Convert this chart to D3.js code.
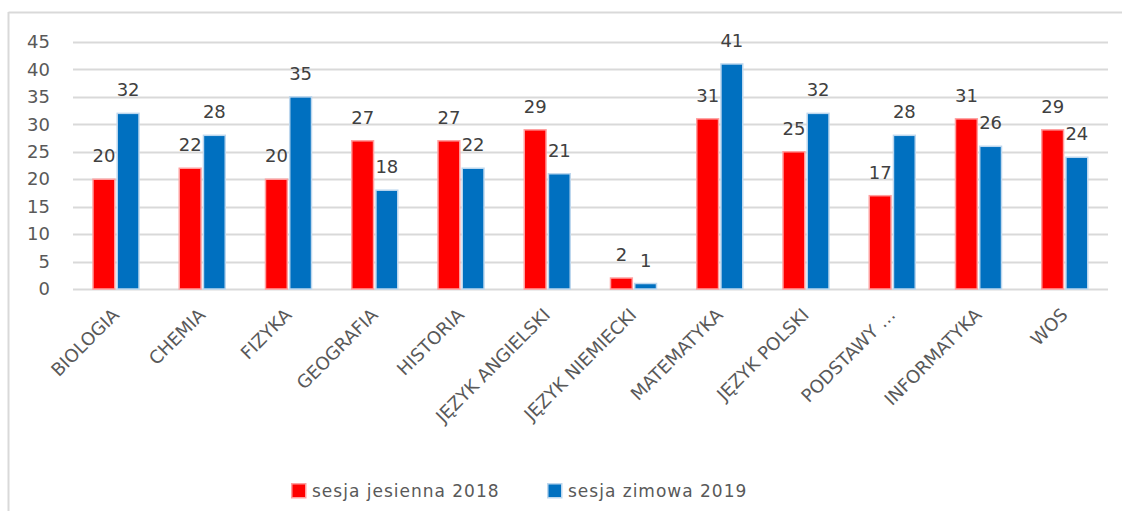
<!DOCTYPE html>
<html>
<head>
<meta charset="utf-8">
<script src="https://cdn.jsdelivr.net/npm/d3@7"></script>
<style>
  body { margin: 0; background: #fff; }
  svg { display: block; font-family: "DejaVu Sans", sans-serif; }
</style>
</head>
<body>
<div id="chart"></div>
<script>
// Chart data
const categories = ["BIOLOGIA", "CHEMIA", "FIZYKA", "GEOGRAFIA", "HISTORIA", "JĘZYK ANGIELSKI",
  "JĘZYK NIEMIECKI", "MATEMATYKA", "JĘZYK POLSKI", "PODSTAWY …", "INFORMATYKA", "WOS"];
const seriesNames = ["sesja jesienna 2018", "sesja zimowa 2019"];
const autumn2018 = [20, 22, 20, 27, 27, 29, 2, 31, 25, 17, 31, 29];
const winter2019 = [32, 28, 35, 18, 22, 21, 1, 41, 32, 28, 26, 24];
const yTicks = [0, 5, 10, 15, 20, 25, 30, 35, 40, 45];

const width = 1122, height = 511;
const margin = { top: 42, right: 14, bottom: 222, left: 73 };

const fills = ["#ff0000", "#0070c0"];
const strokes = ["#ff9f9f", "#bdd7ee"];
const fontFam = "'DejaVu Sans', sans-serif";

const svg = d3.select("#chart").append("svg")
  .attr("width", width)
  .attr("height", height);

// Chart frame (only top and left edges are visible)
svg.append("line").attr("x1", 8.5).attr("x2", width).attr("y1", 12.5).attr("y2", 12.5)
  .attr("stroke", "#d9d9d9").attr("stroke-width", 2);
svg.append("line").attr("x1", 8.5).attr("x2", 8.5).attr("y1", 12).attr("y2", height)
  .attr("stroke", "#d9d9d9").attr("stroke-width", 2);

const x0 = d3.scaleBand().domain(categories).range([margin.left, width - margin.right]);
const x1 = d3.scaleBand().domain([0, 1]).range([20, 66]).paddingInner(0.1);
const y = d3.scaleLinear().domain([0, 45]).range([height - margin.bottom, margin.top]);

// Gridlines
svg.append("g").selectAll("line").data(yTicks).join("line")
  .attr("x1", margin.left).attr("x2", width - margin.right)
  .attr("y1", d => Math.round(y(d)) + 0.5).attr("y2", d => Math.round(y(d)) + 0.5)
  .attr("stroke", "#d9d9d9").attr("stroke-width", 2);

// Y axis labels
const yAxis = d3.axisLeft(y).tickValues(yTicks).tickSize(0).tickPadding(0);
svg.append("g")
  .attr("transform", `translate(${margin.left - 23},0)`)
  .call(yAxis)
  .call(g => g.select(".domain").remove())
  .call(g => g.selectAll("text").attr("font-size", 18).attr("fill", "#595959")
    .attr("font-family", fontFam));

// Bars
const rows = categories.map((c, i) => ({ cat: c, values: [autumn2018[i], winter2019[i]] }));
const groups = svg.append("g").selectAll("g").data(rows).join("g")
  .attr("transform", d => `translate(${x0(d.cat)},0)`);

groups.selectAll("rect").data(d => d.values.map((v, s) => ({ v, s }))).join("rect")
  .attr("x", d => x1(d.s))
  .attr("y", d => y(d.v))
  .attr("width", x1.bandwidth())
  .attr("height", d => y(0) - y(d.v))
  .attr("fill", d => fills[d.s])
  .attr("stroke", d => strokes[d.s])
  .attr("stroke-width", 1.5);

// Data labels
groups.selectAll("text").data(d => d.values.map((v, s) => ({ v, s }))).join("text")
  .attr("x", d => x1(d.s) + x1.bandwidth() / 2)
  .attr("y", d => y(d.v) - 17)
  .attr("text-anchor", "middle")
  .attr("font-size", 18)
  .attr("fill", "#404040")
  .text(d => d.v);

// X axis labels, rotated 45 degrees
svg.append("g").selectAll("text").data(categories).join("text")
  .attr("transform", d => `translate(${x0(d) + x0.bandwidth() / 2 + 4},${y(0) + 27}) rotate(-45)`)
  .attr("text-anchor", "end")
  .attr("font-size", 18)
  .attr("fill", "#595959")
  .text(d => d);

// Legend
const legendX = [291, 547];
const legend = svg.append("g").selectAll("g").data(seriesNames).join("g")
  .attr("transform", (d, i) => `translate(${legendX[i]},483)`);
legend.append("rect")
  .attr("width", 14).attr("height", 14)
  .attr("x", 0.75).attr("y", 0.75)
  .attr("fill", (d, i) => fills[i])
  .attr("stroke", (d, i) => strokes[i])
  .attr("stroke-width", 1.5);
legend.append("text")
  .attr("x", 21).attr("y", 14)
  .attr("font-size", 17)
  .attr("letter-spacing", 1)
  .attr("fill", "#595959")
  .text(d => d);
</script>
</body>
</html>
